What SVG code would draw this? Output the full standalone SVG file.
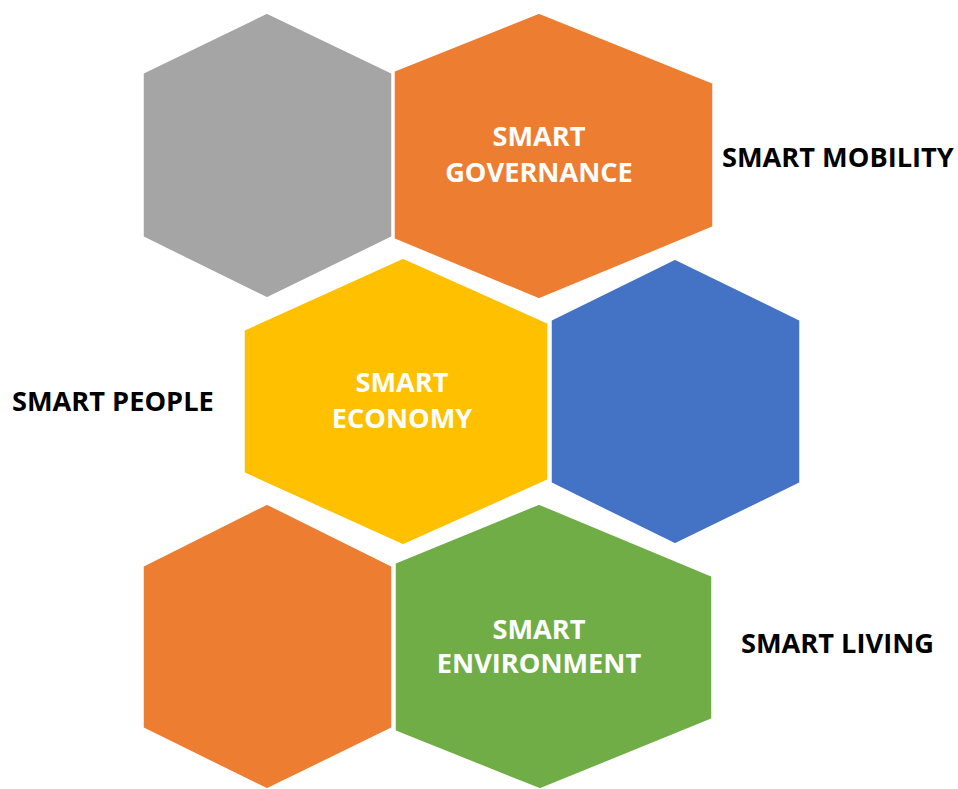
<svg xmlns="http://www.w3.org/2000/svg" width="958" height="789" viewBox="0 0 958 789">
<style>
.hex{stroke:#FFFFFF;stroke-width:1.5;stroke-linejoin:miter}
.in{font-family:"Open Sans","Liberation Sans",sans-serif;font-weight:bold;font-size:27.2px;fill:#FFFFFF;text-anchor:middle}
.out{font-family:"Open Sans","Liberation Sans",sans-serif;font-weight:bold;font-size:27.2px;fill:#000000}
</style>
<rect width="958" height="789" fill="#FFFFFF"/>
<g id="hex-gray"><polygon class="hex" fill="#A5A5A5" points="267,13 392,73 392,237 267,298 143,237 143,73"/></g>
<g id="hex-governance"><polygon class="hex" fill="#ED7D31" points="539,13 713,83 713,227 539,299 394,239 394,71"/>
<text class="in" x="539" y="146">SMART</text><text class="in" x="539" y="182">GOVERNANCE</text></g>
<g id="hex-economy"><polygon class="hex" fill="#FFC000" points="403,258 548,323 548,480 403,545 244,473 244,330"/>
<text class="in" x="402" y="392">SMART</text><text class="in" x="402" y="428">ECONOMY</text></g>
<g id="hex-blue"><polygon class="hex" fill="#4472C4" points="675,259 800,320 800,483 675,544 551,483 551,320"/></g>
<g id="hex-orange2"><polygon class="hex" fill="#ED7D31" points="267,504 392,566 392,728 267,789 143,728 143,566"/></g>
<g id="hex-environment"><polygon class="hex" fill="#70AD47" points="539,504 712,576 712,719 540,789 395,731 395,563"/>
<text class="in" x="539" y="639">SMART</text><text class="in" x="539" y="673">ENVIRONMENT</text></g>
<g id="label-mobility"><text class="out" x="722" y="167">SMART MOBILITY</text></g>
<g id="label-people"><text class="out" x="12" y="411">SMART PEOPLE</text></g>
<g id="label-living"><text class="out" x="741" y="653">SMART LIVING</text></g>
<g id="connectors"></g>
</svg>
